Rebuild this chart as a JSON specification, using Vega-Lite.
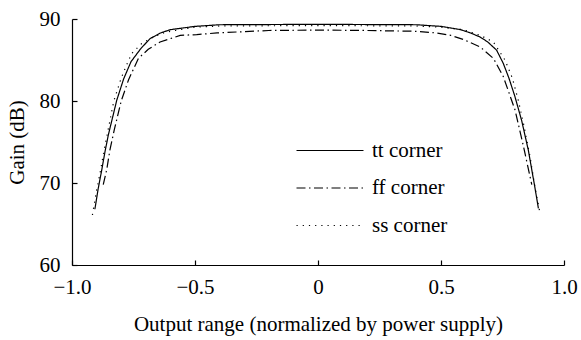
{
  "$schema": "https://vega.github.io/schema/vega-lite/v6.json",
  "width": 492,
  "height": 246,
  "autosize": {"type": "none"},
  "padding": {"left": 72, "top": 19, "right": 17, "bottom": 75},
  "background": "white",
  "config": {
    "view": {"stroke": null},
    "font": "Liberation Serif",
    "axis": {"domainColor": "black", "domainWidth": 1.2, "tickColor": "black", "tickWidth": 1.2, "labelColor": "black", "titleColor": "black", "grid": false, "labelFont": "Liberation Serif", "titleFont": "Liberation Serif", "labelFontSize": 21, "titleFontSize": 21, "titleFontWeight": "normal"}
  },
  "data": {
    "values": [
      {"s": "tt corner", "x": -0.907, "g": 66.8},
      {"s": "tt corner", "x": -0.893, "g": 69.4},
      {"s": "tt corner", "x": -0.879, "g": 71.6},
      {"s": "tt corner", "x": -0.866, "g": 73.8},
      {"s": "tt corner", "x": -0.852, "g": 75.9},
      {"s": "tt corner", "x": -0.818, "g": 80.1},
      {"s": "tt corner", "x": -0.79, "g": 82.7},
      {"s": "tt corner", "x": -0.76, "g": 84.8},
      {"s": "tt corner", "x": -0.72, "g": 86.4},
      {"s": "tt corner", "x": -0.683, "g": 87.6},
      {"s": "tt corner", "x": -0.64, "g": 88.3},
      {"s": "tt corner", "x": -0.6, "g": 88.7},
      {"s": "tt corner", "x": -0.5, "g": 89.1},
      {"s": "tt corner", "x": -0.4, "g": 89.3},
      {"s": "tt corner", "x": 0, "g": 89.35},
      {"s": "tt corner", "x": 0.4, "g": 89.3},
      {"s": "tt corner", "x": 0.5, "g": 89.1},
      {"s": "tt corner", "x": 0.58, "g": 88.7},
      {"s": "tt corner", "x": 0.62, "g": 88.3},
      {"s": "tt corner", "x": 0.659, "g": 87.8},
      {"s": "tt corner", "x": 0.69, "g": 87.2},
      {"s": "tt corner", "x": 0.726, "g": 86.2},
      {"s": "tt corner", "x": 0.753, "g": 84.6},
      {"s": "tt corner", "x": 0.776, "g": 82.8},
      {"s": "tt corner", "x": 0.8, "g": 80.6},
      {"s": "tt corner", "x": 0.828, "g": 77.6},
      {"s": "tt corner", "x": 0.855, "g": 74.0},
      {"s": "tt corner", "x": 0.882, "g": 69.4},
      {"s": "tt corner", "x": 0.896, "g": 66.9},

      {"s": "ff corner", "x": -0.873, "g": 69.8},
      {"s": "ff corner", "x": -0.859, "g": 71.6},
      {"s": "ff corner", "x": -0.846, "g": 74.0},
      {"s": "ff corner", "x": -0.828, "g": 76.5},
      {"s": "ff corner", "x": -0.8, "g": 80.0},
      {"s": "ff corner", "x": -0.77, "g": 82.6},
      {"s": "ff corner", "x": -0.73, "g": 85.2},
      {"s": "ff corner", "x": -0.69, "g": 86.3},
      {"s": "ff corner", "x": -0.642, "g": 87.2},
      {"s": "ff corner", "x": -0.56, "g": 88.0},
      {"s": "ff corner", "x": -0.493, "g": 88.1},
      {"s": "ff corner", "x": -0.41, "g": 88.3},
      {"s": "ff corner", "x": -0.2, "g": 88.6},
      {"s": "ff corner", "x": 0, "g": 88.65},
      {"s": "ff corner", "x": 0.2, "g": 88.6},
      {"s": "ff corner", "x": 0.4, "g": 88.5},
      {"s": "ff corner", "x": 0.482, "g": 88.3},
      {"s": "ff corner", "x": 0.54, "g": 88.0},
      {"s": "ff corner", "x": 0.591, "g": 87.5},
      {"s": "ff corner", "x": 0.659, "g": 86.6},
      {"s": "ff corner", "x": 0.713, "g": 85.2},
      {"s": "ff corner", "x": 0.753, "g": 83.0},
      {"s": "ff corner", "x": 0.801, "g": 78.9},
      {"s": "ff corner", "x": 0.835, "g": 74.5},
      {"s": "ff corner", "x": 0.869, "g": 69.8},

      {"s": "ss corner", "x": -0.917, "g": 66.1},
      {"s": "ss corner", "x": -0.9, "g": 69.1},
      {"s": "ss corner", "x": -0.886, "g": 71.2},
      {"s": "ss corner", "x": -0.873, "g": 73.4},
      {"s": "ss corner", "x": -0.859, "g": 75.6},
      {"s": "ss corner", "x": -0.83, "g": 80.0},
      {"s": "ss corner", "x": -0.8, "g": 82.8},
      {"s": "ss corner", "x": -0.778, "g": 84.4},
      {"s": "ss corner", "x": -0.757, "g": 85.8},
      {"s": "ss corner", "x": -0.717, "g": 87.0},
      {"s": "ss corner", "x": -0.67, "g": 87.8},
      {"s": "ss corner", "x": -0.62, "g": 88.4},
      {"s": "ss corner", "x": -0.5, "g": 89.0},
      {"s": "ss corner", "x": -0.4, "g": 89.15},
      {"s": "ss corner", "x": 0, "g": 89.2},
      {"s": "ss corner", "x": 0.4, "g": 89.15},
      {"s": "ss corner", "x": 0.5, "g": 89.0},
      {"s": "ss corner", "x": 0.59, "g": 88.7},
      {"s": "ss corner", "x": 0.66, "g": 88.0},
      {"s": "ss corner", "x": 0.713, "g": 87.2},
      {"s": "ss corner", "x": 0.76, "g": 85.0},
      {"s": "ss corner", "x": 0.79, "g": 82.8},
      {"s": "ss corner", "x": 0.814, "g": 80.1},
      {"s": "ss corner", "x": 0.835, "g": 77.3},
      {"s": "ss corner", "x": 0.862, "g": 73.2},
      {"s": "ss corner", "x": 0.882, "g": 69.5},
      {"s": "ss corner", "x": 0.902, "g": 66.4}
    ]
  },
  "mark": {"type": "line", "color": "black", "strokeWidth": 1.2},
  "encoding": {
    "x": {
      "field": "x", "type": "quantitative",
      "scale": {"domain": [-1, 1], "nice": false, "zero": false},
      "axis": {"values": [-1, -0.5, 0, 0.5, 1], "tickSize": -5, "labelPadding": 16, "labelExpr": "datum.value == 0 ? '0' : replace(format(datum.value, '.1f'), '-', '\u2212')", "title": "Output range (normalized by power supply)", "titlePadding": 16, "labelFlush": false, "labelOverlap": false}
    },
    "y": {
      "field": "g", "type": "quantitative",
      "scale": {"domain": [60, 90], "nice": false, "zero": false},
      "axis": {"values": [60, 70, 80, 90], "tickSize": -5, "labelPadding": 17, "title": "Gain (dB)", "titlePadding": 12, "labelFlush": false, "labelOverlap": false}
    },
    "strokeDash": {
      "field": "s", "type": "nominal",
      "scale": {"domain": ["tt corner", "ff corner", "ss corner"], "range": [[1, 0], [9, 3.5, 1.5, 3.5], [1.2, 5]]},
      "legend": {"orient": "none", "legendX": 244, "legendY": 117.5, "title": null, "symbolType": "M-2.5,0H2.5", "symbolSize": 718, "symbolStrokeWidth": 1.2, "symbolStrokeColor": "black", "symbolFillColor": "transparent", "labelFont": "Liberation Serif", "labelFontSize": 21, "labelColor": "black", "labelOffset": 28, "rowPadding": 13.5}
    },
    "detail": {"field": "s"}
  }
}
